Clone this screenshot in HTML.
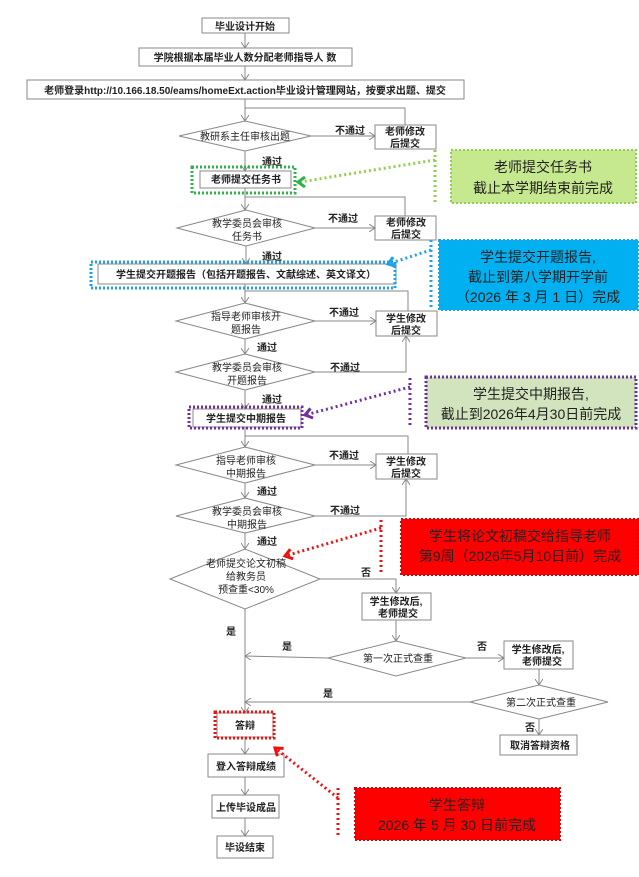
<!DOCTYPE html>
<html><head><meta charset="utf-8"><style>
html,body{margin:0;padding:0;background:#fff;}
svg{display:block;}
text{font-family:"Liberation Sans","Noto Sans CJK SC",sans-serif;fill:#222;}
.b{font-size:10px;font-weight:bold;}
.n{font-size:10px;}
.big{font-size:14px;}
</style></head><body>
<svg width="639" height="877" viewBox="0 0 639 877" xmlns="http://www.w3.org/2000/svg">
<defs>
<marker id="a" markerWidth="8" markerHeight="8" refX="6" refY="4" orient="auto" markerUnits="userSpaceOnUse">
<path d="M0,0 L6,4 L0,8" fill="none" stroke="#888" stroke-width="1"/></marker>
<marker id="g" markerWidth="12" markerHeight="12" refX="8" refY="6" orient="auto" markerUnits="userSpaceOnUse"><path d="M1,1 L8,6 L1,11" fill="none" stroke="#2db34a" stroke-width="3"/></marker>
<marker id="bl" markerWidth="12" markerHeight="12" refX="8" refY="6" orient="auto" markerUnits="userSpaceOnUse"><path d="M1,1 L8,6 L1,11" fill="none" stroke="#1aa3e8" stroke-width="3"/></marker>
<marker id="p" markerWidth="12" markerHeight="12" refX="8" refY="6" orient="auto" markerUnits="userSpaceOnUse"><path d="M1,1 L8,6 L1,11" fill="none" stroke="#7030a0" stroke-width="3"/></marker>
<marker id="r" markerWidth="12" markerHeight="12" refX="8" refY="6" orient="auto" markerUnits="userSpaceOnUse"><path d="M1,1 L8,6 L1,11" fill="none" stroke="#ee1111" stroke-width="3"/></marker>
</defs>
<g fill="#fff" stroke="#888" stroke-width="1">
<rect x="202" y="18" width="87" height="15"/>
<rect x="139" y="48" width="213" height="18"/>
<rect x="27" y="80" width="437" height="19"/>
<rect x="375" y="125" width="61" height="24"/>
<rect x="200" y="171" width="91" height="17"/>
<rect x="375" y="216" width="61" height="24"/>
<rect x="98" y="264" width="298" height="20"/>
<rect x="376" y="311" width="61" height="25"/>
<rect x="193" y="409" width="108" height="18"/>
<rect x="376" y="454" width="61" height="25"/>
<rect x="362" y="593" width="69" height="27"/>
<rect x="504" y="641" width="69" height="28"/>
<rect x="500" y="735" width="77" height="20"/>
<rect x="217" y="713" width="56" height="24"/>
<rect x="208" y="754" width="76" height="23"/>
<rect x="212" y="795" width="67" height="23"/>
<rect x="217" y="836" width="56" height="22"/>
<polygon points="179,136 245,121 311,136 245,151"/>
<polygon points="177,228 246,210 315,228 246,246"/>
<polygon points="176,321 245,303 315,321 245,339"/>
<polygon points="176,372 245,354 315,372 245,390"/>
<polygon points="176,465 245,447 315,465 245,483"/>
<polygon points="176,516 245,498 315,516 245,533"/>
<polygon points="170,579 245,549 320,579 245,609"/>
<polygon points="328,658 396,641 466,658 396,676"/>
<polygon points="470,702 539,685 608,702 539,719"/>
</g>
<g fill="none" stroke="#888" stroke-width="1">
<path d="M245,33 V48" marker-end="url(#a)"/>
<path d="M245,66 V80" marker-end="url(#a)"/>
<path d="M245,99 V121" marker-end="url(#a)"/>
<path d="M405,125 V108 H245"/>
<path d="M311,136 H375" marker-end="url(#a)"/>
<path d="M245,151 V171" marker-end="url(#a)"/>
<path d="M245,188 V210" marker-end="url(#a)"/>
<path d="M405,216 V197 H245"/>
<path d="M315,228 H375" marker-end="url(#a)"/>
<path d="M246,246 V264" marker-end="url(#a)"/>
<path d="M245,284 V303" marker-end="url(#a)"/>
<path d="M408,311 V291 H245"/>
<path d="M315,321 H376" marker-end="url(#a)"/>
<path d="M245,339 V354" marker-end="url(#a)"/>
<path d="M315,372 H406 V336" marker-end="url(#a)"/>
<path d="M245,390 V409" marker-end="url(#a)"/>
<path d="M245,427 V447" marker-end="url(#a)"/>
<path d="M408,454 V436 H245"/>
<path d="M315,465 H376" marker-end="url(#a)"/>
<path d="M245,483 V498" marker-end="url(#a)"/>
<path d="M315,516 H406 V479" marker-end="url(#a)"/>
<path d="M245,533 V549" marker-end="url(#a)"/>
<path d="M320,579 H396 V593" marker-end="url(#a)"/>
<path d="M396,620 V641" marker-end="url(#a)"/>
<path d="M245,609 V713" marker-end="url(#a)"/>
<path d="M328,658 L245,656" marker-end="url(#a)"/>
<path d="M466,658 H504" marker-end="url(#a)"/>
<path d="M539,669 V685" marker-end="url(#a)"/>
<path d="M470,702 H245" marker-end="url(#a)"/>
<path d="M539,719 V735" marker-end="url(#a)"/>
<path d="M245,737 V754" marker-end="url(#a)"/>
<path d="M245,777 V795" marker-end="url(#a)"/>
<path d="M245,818 V836" marker-end="url(#a)"/>
</g>
<!-- highlight dotted frames -->
<g fill="none" stroke-width="3" stroke-dasharray="2,2">
<rect x="192" y="167" width="103" height="26" stroke="#2db34a"/>
<rect x="91" y="262" width="304" height="26" stroke="#1aa3e8"/>
<rect x="189" y="407" width="113" height="21" stroke="#7030a0"/>
<rect x="215" y="712" width="59" height="26" stroke="#ee1111"/>
</g>
<!-- callouts -->
<rect x="451" y="150" width="185" height="53" fill="#c6e88f" stroke="#8fd04a" stroke-width="2" stroke-dasharray="2,2"/>
<rect x="439" y="240" width="199" height="70" fill="#00b0f0" stroke="#1aa3e8" stroke-width="2" stroke-dasharray="2,2"/>
<rect x="426" y="377" width="210" height="51" fill="#d2e4bd" stroke="#7030a0" stroke-width="3" stroke-dasharray="2,2"/>
<rect x="401" y="519" width="238" height="56" fill="#ff0000" stroke="#d00" stroke-width="2" stroke-dasharray="2,2"/>
<rect x="355" y="788" width="205" height="52" fill="#ff0000" stroke="#d00" stroke-width="2" stroke-dasharray="2,2"/>
<g fill="none" stroke-width="3" stroke-dasharray="2,3">
<path d="M435,150 V203 M435,160 L300,182" stroke="#8fd04a"/>
<path d="M300,182 L298,182" stroke="#2db34a" marker-end="url(#g)"/>
<path d="M431,240 V310 M431,250 L388,264" stroke="#1aa3e8" marker-end="url(#bl)"/>
<path d="M410,378 V426 M410,387 L305,415" stroke="#7030a0" marker-end="url(#p)"/>
<path d="M381,520 V573 M381,528 L285,556" stroke="#ee1111" marker-end="url(#r)"/>
<path d="M338,788 V838 M338,798 L275,748" stroke="#ee1111" marker-end="url(#r)"/>
</g>
<!-- texts -->
<g class="b" text-anchor="middle">
<text x="245" y="30">毕业设计开始</text>
<text x="245" y="61">学院根据本届毕业人数分配老师指导人 数</text>
<text x="245" y="94">老师登录http://10.166.18.50/eams/homeExt.action毕业设计管理网站，按要求出题、提交</text>
<text x="405" y="135">老师修改</text><text x="405" y="147">后提交</text>
<text x="246" y="183">老师提交任务书</text>
<text x="406" y="226">老师修改</text><text x="406" y="238">后提交</text>
<text x="246" y="278">学生提交开题报告（包括开题报告、文献综述、英文译文）</text>
<text x="406" y="322">学生修改</text><text x="406" y="334">后提交</text>
<text x="246" y="422">学生提交中期报告</text>
<text x="406" y="465">学生修改</text><text x="406" y="477">后提交</text>
<text x="396" y="605">学生修改后,</text><text x="398" y="617">老师提交</text>
<text x="538" y="653">学生修改后,</text><text x="542" y="665">老师提交</text>
<text x="540" y="749">取消答辩资格</text>
<text x="245" y="729">答辩</text>
<text x="246" y="770">登入答辩成绩</text>
<text x="246" y="811">上传毕设成品</text>
<text x="245" y="851">毕设结束</text>
<text x="350" y="134">不通过</text>
<text x="272" y="165">通过</text>
<text x="343" y="222">不通过</text>
<text x="272" y="260">通过</text>
<text x="344" y="316">不通过</text>
<text x="267" y="351">通过</text>
<text x="345" y="371">不通过</text>
<text x="272" y="403">通过</text>
<text x="344" y="459">不通过</text>
<text x="267" y="495">通过</text>
<text x="345" y="514">不通过</text>
<text x="267" y="545">通过</text>
<text x="366" y="576">否</text>
<text x="231" y="635">是</text>
<text x="287" y="650">是</text>
<text x="482" y="650">否</text>
<text x="328" y="697">是</text>
<text x="530" y="731">否</text>
</g>
<g class="n" text-anchor="middle">
<text x="245" y="140">教研系主任审核出题</text>
<text x="247" y="227">教学委员会审核</text><text x="247" y="240">任务书</text>
<text x="246" y="320">指导老师审核开</text><text x="246" y="333">题报告</text>
<text x="247" y="371">教学委员会审核</text><text x="247" y="384">开题报告</text>
<text x="246" y="464">指导老师审核</text><text x="246" y="477">中期报告</text>
<text x="247" y="515">教学委员会审核</text><text x="247" y="528">中期报告</text>
<text x="246" y="567">老师提交论文初稿</text><text x="246" y="580">给教务员</text><text x="246" y="593">预查重&lt;30%</text>
<text x="398" y="662">第一次正式查重</text>
<text x="541" y="706">第二次正式查重</text>
</g>
<g class="big" text-anchor="middle">
<text x="543" y="172">老师提交任务书</text><text x="543" y="193">截止本学期结束前完成</text>
<text x="538" y="262">学生提交开题报告,</text><text x="538" y="282">截止到第八学期开学前</text><text x="538" y="302">（2026 年 3 月 1 日）完成</text>
<text x="531" y="399">学生提交中期报告,</text><text x="531" y="419">截止到2026年4月30日前完成</text>
<text x="520" y="541">学生将论文初稿交给指导老师</text><text x="520" y="561">第9周（2026年5月10日前）完成</text>
<text x="457" y="810">学生答辩</text><text x="457" y="830">2026 年 5 月 30 日前完成</text>
</g>
</svg>
</body></html>
